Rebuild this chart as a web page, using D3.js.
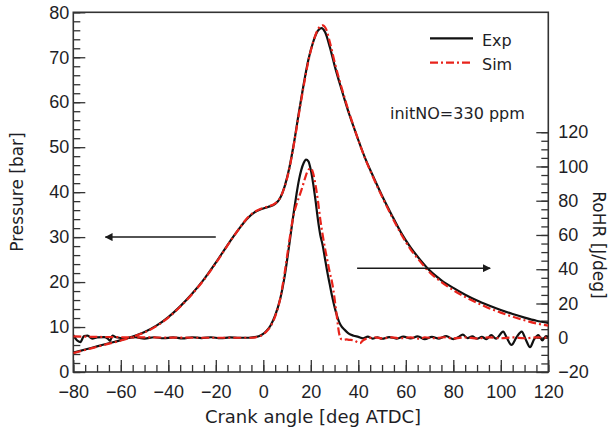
<!DOCTYPE html>
<html>
<head>
<meta charset="utf-8">
<script src="https://cdn.jsdelivr.net/npm/d3@7"></script>
<style>
  body { margin: 0; background: #fff; }
  svg { display: block; }
</style>
</head>
<body>
<div id="chart"></div>
<script>
// Pressure [bar] vs crank angle [deg ATDC]
const pressExp = [
  [-80, 4.3], [-75, 5.0], [-70, 5.7], [-65, 6.4], [-60, 7.1], [-55, 7.9], [-50, 8.9], [-45, 10.3],
  [-40, 12.2], [-35, 14.6], [-30, 17.4], [-25, 20.6], [-20, 24.3], [-15, 28.3], [-10, 32.0], [-7, 34.0],
  [-4, 35.4], [-1, 36.2], [2, 36.7], [5, 37.4], [7, 38.6], [9, 41.3], [11, 45.5], [13, 51.2],
  [15, 57.8], [17, 64], [19, 69.5], [21, 73.4], [23, 75.9], [24.5, 76.5], [26, 75.6], [28, 72.3],
  [30, 68.2], [32, 64.5], [34, 61], [36, 57.6], [38, 54.6], [40, 51.6], [43, 47.4], [46, 43.8],
  [50, 39.2], [54, 35], [58, 31.0], [62, 27.7], [66, 25.0], [70, 22.6], [75, 20.4], [80, 18.7],
  [85, 17.2], [90, 15.9], [95, 14.8], [100, 13.8], [105, 12.9], [110, 12.1], [115, 11.4], [120, 10.9]
];
const pressSim = [
  [-80, 4.2], [-75, 4.9], [-70, 5.6], [-65, 6.3], [-60, 7.0], [-55, 7.8], [-50, 8.8], [-45, 10.2],
  [-40, 12.1], [-35, 14.5], [-30, 17.3], [-25, 20.5], [-20, 24.2], [-15, 28.2], [-10, 32.0], [-7, 34.1],
  [-4, 35.5], [-1, 36.3], [2, 36.8], [5, 37.5], [7, 38.7], [9, 41.2], [11, 45.3], [13, 51],
  [15, 57.4], [17, 63.6], [19, 69.2], [21, 73.4], [23, 76.2], [25, 77.1], [26.5, 76.2], [28, 73.4],
  [30, 69], [32, 65], [34, 61.4], [36, 57.9], [38, 54.7], [40, 51.6], [43, 47.3], [46, 43.6],
  [50, 39], [54, 34.7], [58, 30.7], [62, 27.3], [66, 24.6], [70, 22.2], [75, 20.0], [80, 18.2],
  [85, 16.7], [90, 15.4], [95, 14.2], [100, 13.2], [105, 12.3], [110, 11.5], [115, 10.8], [120, 10.3]
];

// RoHR [J/deg] vs crank angle
const rohrExp = [
  [-80, 1.5], [-78.5, -1.5], [-77, -2.5], [-75.5, 1], [-74, 1.2], [-72, -0.5], [-70, 0.2], [-67, 0.4],
  [-65.5, -0.5], [-64.5, -1.8], [-63.5, 1.2], [-62, 0.3], [-58, -0.2], [-54, 0.4], [-50, -0.5], [-46, 0.3],
  [-42, -0.3], [-38, 0.2], [-34, -0.4], [-30, 0.3], [-26, -0.2], [-22, 0.3], [-18, -0.3], [-14, 0.2],
  [-10, 0], [-6, 0], [-3, 0.5], [-1, 1.5], [1, 3.5], [3, 7], [5, 13], [7, 22],
  [9, 36], [11, 55], [13, 75], [14, 84], [15, 92], [16, 98], [17, 102], [18, 104],
  [19, 103], [20, 98], [21, 90], [22, 80], [23, 69], [24, 60], [25, 54], [26, 46],
  [27, 38], [28, 31], [29, 24], [30, 18], [31, 13], [32, 9], [33, 6.5], [34, 5],
  [35, 3.6], [36, 2.4], [38, 1.2], [40, 0.5], [42, -0.3], [44, 0.6], [46, -0.5], [48, 0.3],
  [50, -0.6], [53, 0.4], [56, -0.5], [59, 0.6], [62, -0.4], [65, 0.8], [68, -0.8], [71, 0.5],
  [74, -0.5], [77, 1.0], [80, -0.8], [82, 0.3], [84, 1.8], [86, -0.2], [88, 0.8], [90, -0.6],
  [92, 0.5], [94, -0.8], [96, 1.5], [98, -0.5], [101, 3.6], [102.5, 0], [104.5, -4.2], [106.5, 0],
  [108.8, 3.6], [110.5, -1], [112.3, -5.5], [114, -1], [115.8, 1.5], [117.5, -1.5], [119, 1], [120, 0.5]
];
const rohrSim = [
  [-80, 0.8], [-70, 0.5], [-60, 0.3], [-50, 0.2], [-40, 0.1], [-30, 0], [-20, 0], [-10, 0],
  [-5, 0], [-3, 0.3], [-1, 1.2], [1, 3.2], [3, 6.5], [5, 12.5], [7, 22], [9, 38],
  [11, 57], [12, 66], [13, 73], [14, 78], [15, 82], [16, 86], [17, 90.5], [18, 95],
  [19, 98], [20, 99], [21, 96], [22, 89], [23, 80], [24, 69], [25, 60], [26, 52],
  [27, 45], [28, 38], [29, 32], [30, 23], [31, 12], [32, 2], [33, -1], [34, -1.2],
  [35, -1], [36, -1.2], [38, -1.5], [39.5, -2.5], [40.7, -3.2], [42, -1.5], [44, -0.3], [47, 0.2],
  [50, -0.4], [54, 0.2], [58, -0.3], [62, 0.2], [66, -0.6], [68, 0.3], [72, -0.3], [76, 0.3],
  [80, -0.4], [85, 0.2], [90, -0.4], [95, 0.2], [100, -0.3], [105, 0.2], [110, -0.3], [115, 0.2], [120, 0]
];

const xTicks = [-80, -60, -40, -20, 0, 20, 40, 60, 80, 100, 120];
const pressTicks = [0, 10, 20, 30, 40, 50, 60, 70, 80];
const rohrTicks = [-20, 0, 20, 40, 60, 80, 100, 120];

// arrows: [from angle, to angle, value on pressure axis]
const arrowLeft = [-20, -66.5, 30];
const arrowRight = [39.5, 95.5, 23.1];

const svgWidth = 610;
const svgHeight = 434;
const margin = { top: 12.3, right: 61.7, bottom: 62, left: 73.3 };
const width = svgWidth - margin.left - margin.right;
const height = svgHeight - margin.top - margin.bottom;

const svg = d3.select("#chart")
  .append("svg")
  .attr("width", svgWidth)
  .attr("height", svgHeight);

const g = svg.append("g")
  .attr("transform", `translate(${margin.left},${margin.top})`);

const x = d3.scaleLinear().domain([-80, 120]).range([0, width]);
const yP = d3.scaleLinear().domain([0, 80]).range([height, 0]);
const yR = d3.scaleLinear().domain([-20, 190]).range([height, 0]);

const tickFont = "'Liberation Sans', Arial, sans-serif";
const titleFont = "'DejaVu Sans', Verdana, sans-serif";
const ink = "#1e1e26";

function styleAxis(sel, size) {
  sel.select(".domain").remove();
  sel.selectAll("line").attr("stroke", "#333").attr("stroke-width", 1.3);
  sel.selectAll("text")
    .style("font-family", tickFont)
    .style("font-size", size + "px")
    .attr("fill", ink);
}

// minor ticks
g.append("g")
  .attr("transform", `translate(0,${height})`)
  .call(d3.axisBottom(x).tickValues(d3.range(-80, 121, 5)).tickFormat("").tickSize(-7).tickSizeOuter(0))
  .call(styleAxis, 18);
g.append("g")
  .call(d3.axisLeft(yP).tickValues(d3.range(0, 81, 2)).tickFormat("").tickSize(-7).tickSizeOuter(0))
  .call(styleAxis, 18);
g.append("g")
  .attr("transform", `translate(${width},0)`)
  .call(d3.axisRight(yR).tickValues(d3.range(-20, 121, 5)).tickFormat("").tickSize(-7).tickSizeOuter(0))
  .call(styleAxis, 18);

// major ticks
g.append("g")
  .attr("transform", `translate(0,${height})`)
  .call(d3.axisBottom(x).tickValues(xTicks).tickSize(-12).tickSizeOuter(0).tickPadding(13))
  .call(styleAxis, 18);
g.append("g")
  .call(d3.axisLeft(yP).tickValues(pressTicks).tickSize(-12).tickSizeOuter(0).tickPadding(4))
  .call(styleAxis, 18);
g.append("g")
  .attr("transform", `translate(${width},0)`)
  .call(d3.axisRight(yR).tickValues(rohrTicks).tickSize(-12).tickSizeOuter(0).tickPadding(10))
  .call(styleAxis, 18);

// frame
g.append("rect")
  .attr("width", width)
  .attr("height", height)
  .attr("fill", "none")
  .attr("stroke", "#333")
  .attr("stroke-width", 1.6);

svg.append("clipPath").attr("id", "plot")
  .append("rect").attr("width", width).attr("height", height);

const lineP = d3.line().x(d => x(d[0])).y(d => yP(d[1])).curve(d3.curveMonotoneX);
const lineR = d3.line().x(d => x(d[0])).y(d => yR(d[1])).curve(d3.curveMonotoneX);

const plot = g.append("g").attr("clip-path", "url(#plot)");

const black = "#111";
const red = "#e8231b";
const dash = "8,3,2,3";

plot.append("path").datum(pressExp).attr("d", lineP)
  .attr("fill", "none").attr("stroke", black).attr("stroke-width", 2.2);
plot.append("path").datum(rohrExp).attr("d", lineR)
  .attr("fill", "none").attr("stroke", black).attr("stroke-width", 2.2);
plot.append("path").datum(pressSim).attr("d", lineP)
  .attr("fill", "none").attr("stroke", red).attr("stroke-width", 2.2).attr("stroke-dasharray", dash);
plot.append("path").datum(rohrSim).attr("d", lineR)
  .attr("fill", "none").attr("stroke", red).attr("stroke-width", 2.2).attr("stroke-dasharray", dash);

// arrows
svg.append("defs").append("marker")
  .attr("id", "head")
  .attr("viewBox", "0 0 10 10")
  .attr("refX", 9).attr("refY", 5)
  .attr("markerWidth", 8).attr("markerHeight", 8)
  .attr("markerUnits", "userSpaceOnUse")
  .attr("orient", "auto")
  .append("path").attr("d", "M0,0L10,5L0,10z").attr("fill", "#1a1a1a");

[arrowLeft, arrowRight].forEach(a => {
  g.append("line")
    .attr("x1", x(a[0])).attr("x2", x(a[1]))
    .attr("y1", yP(a[2])).attr("y2", yP(a[2]))
    .attr("stroke", "#1a1a1a").attr("stroke-width", 1.5)
    .attr("marker-end", "url(#head)");
});

// legend
const legend = svg.append("g").style("font-family", titleFont).style("font-size", "16px").attr("fill", ink);
legend.append("line").attr("x1", 430).attr("x2", 473).attr("y1", 38.3).attr("y2", 38.3)
  .attr("stroke", black).attr("stroke-width", 2.2);
legend.append("line").attr("x1", 430).attr("x2", 473).attr("y1", 62.7).attr("y2", 62.7)
  .attr("stroke", red).attr("stroke-width", 2.2).attr("stroke-dasharray", dash);
legend.append("text").attr("x", 482).attr("y", 46).text("Exp");
legend.append("text").attr("x", 482).attr("y", 69.5).text("Sim");

svg.append("text")
  .attr("x", 390).attr("y", 119)
  .style("font-family", titleFont).style("font-size", "16px").attr("fill", ink)
  .text("initNO=330 ppm");

// axis titles
svg.append("text")
  .attr("x", 313).attr("y", 423)
  .attr("text-anchor", "middle")
  .style("font-family", titleFont).style("font-size", "18px").attr("fill", ink)
  .text("Crank angle [deg ATDC]");

svg.append("text")
  .attr("transform", "translate(17,192) rotate(-90)")
  .attr("text-anchor", "middle").attr("dominant-baseline", "central")
  .style("font-family", titleFont).style("font-size", "17px").attr("fill", ink)
  .text("Pressure [bar]");

svg.append("text")
  .attr("transform", "translate(599,245) rotate(90)")
  .attr("text-anchor", "middle").attr("dominant-baseline", "central")
  .style("font-family", titleFont).style("font-size", "17px").attr("fill", ink)
  .text("RoHR [J/deg]");
</script>
</body>
</html>
